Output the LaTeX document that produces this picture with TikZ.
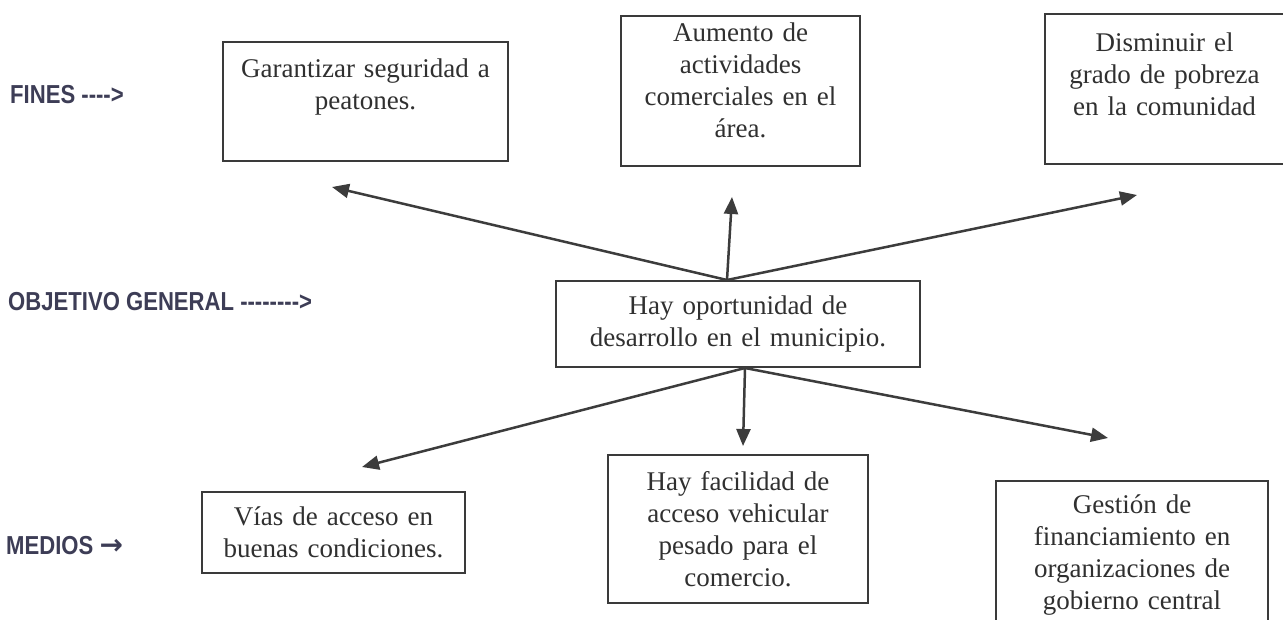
\documentclass[tikz,border=0pt]{standalone}
\usepackage{fontspec}
\setmainfont{Liberation Serif}
\newfontfamily\labelfont[FakeStretch=0.85]{Liberation Sans}
\newfontfamily\arrowfont{DejaVu Sans}
\usepackage{tikz}
\usetikzlibrary{arrows.meta}
\definecolor{boxgray}{HTML}{3A3A3A}
\definecolor{textgray}{HTML}{303030}
\definecolor{labelslate}{HTML}{3D3D56}
\definecolor{arrowgray}{HTML}{3C3C3C}

\begin{document}
\begin{tikzpicture}[
        x=1pt, y=-1pt,
        box/.style={rectangle, draw=boxgray, line width=2pt, fill=white,
                align=center, inner xsep=0pt, text=textgray,
                font=\fontsize{27pt}{32pt}\selectfont},
        topbox/.style={box, anchor=north, text height=20pt},
        midbox/.style={box, inner ysep=0pt},
        side/.style={anchor=west, inner sep=0pt, text=labelslate,
                font=\labelfont\bfseries\fontsize{26pt}{30pt}\selectfont},
        arr/.style={-{Triangle[length=17pt, width=14pt]}, arrowgray,
                line width=2.5pt},
    ]

    \path[use as bounding box, fill=white] (0,0) rectangle (1283,619);

    % row labels
    \node[side] (lblFines) at (10,95) {FINES -{}-{}-{}->};
    \node[side] (lblObjetivo) at (8,302) {OBJETIVO GENERAL -{}-{}-{}-{}-{}-{}-{}->};
    \node[side] (lblMedios) at (6,546)
        {MEDIOS {\arrowfont\bfseries\fontsize{28pt}{30pt}\selectfont →}};

    % fines
    \node[topbox, text width=285pt, inner ysep=15pt, text depth=69pt]
        (fin1) at (365.5,41) {Garantizar seguridad a\\peatones.};
    \node[topbox, text width=239pt, inner ysep=5pt, text depth=120pt]
        (fin2) at (740.5,15) {Aumento de\\actividades\\comerciales en el\\área.};
    \node[topbox, text width=239pt, inner ysep=17pt, text depth=96pt]
        (fin3) at (1164.5,13) {Disminuir el\\grado de pobreza\\en la comunidad};

    % objetivo general
    \node[midbox, text width=364pt, minimum height=86pt]
        (obj) at (738,324) {Hay oportunidad de\\desarrollo en el municipio.};

    % medios
    \node[midbox, text width=263pt, minimum height=81pt]
        (med1) at (333.5,532.5) {Vías de acceso en\\buenas condiciones.};
    \node[midbox, text width=260pt, minimum height=148pt]
        (med2) at (738,529) {Hay facilidad de\\acceso vehicular\\pesado para el\\comercio.};
    \node[topbox, text width=272pt, inner ysep=12pt, text depth=124pt]
        (med3) at (1132,480) {Gestión de\\financiamiento en\\organizaciones de\\gobierno central};

    \coordinate (tipFin1) at (332,187);
    \coordinate (tipFin2) at (732,197);
    \coordinate (tipFin3) at (1137,195);
    \coordinate (tipMed1) at (362,467);
    \coordinate (tipMed2) at (743,446);
    \coordinate (tipMed3) at (1108,438);

    \draw[arr] ([xshift=-11pt]obj.north) -- (tipFin1);
    \draw[arr] ([xshift=-11pt]obj.north) -- (tipFin2);
    \draw[arr] ([xshift=-11pt]obj.north) -- (tipFin3);

    \draw[arr] ([xshift=7pt]obj.south) -- (tipMed1);
    \draw[arr] ([xshift=7pt]obj.south) -- (tipMed2);
    \draw[arr] ([xshift=7pt]obj.south) -- (tipMed3);
\end{tikzpicture}
\end{document}
